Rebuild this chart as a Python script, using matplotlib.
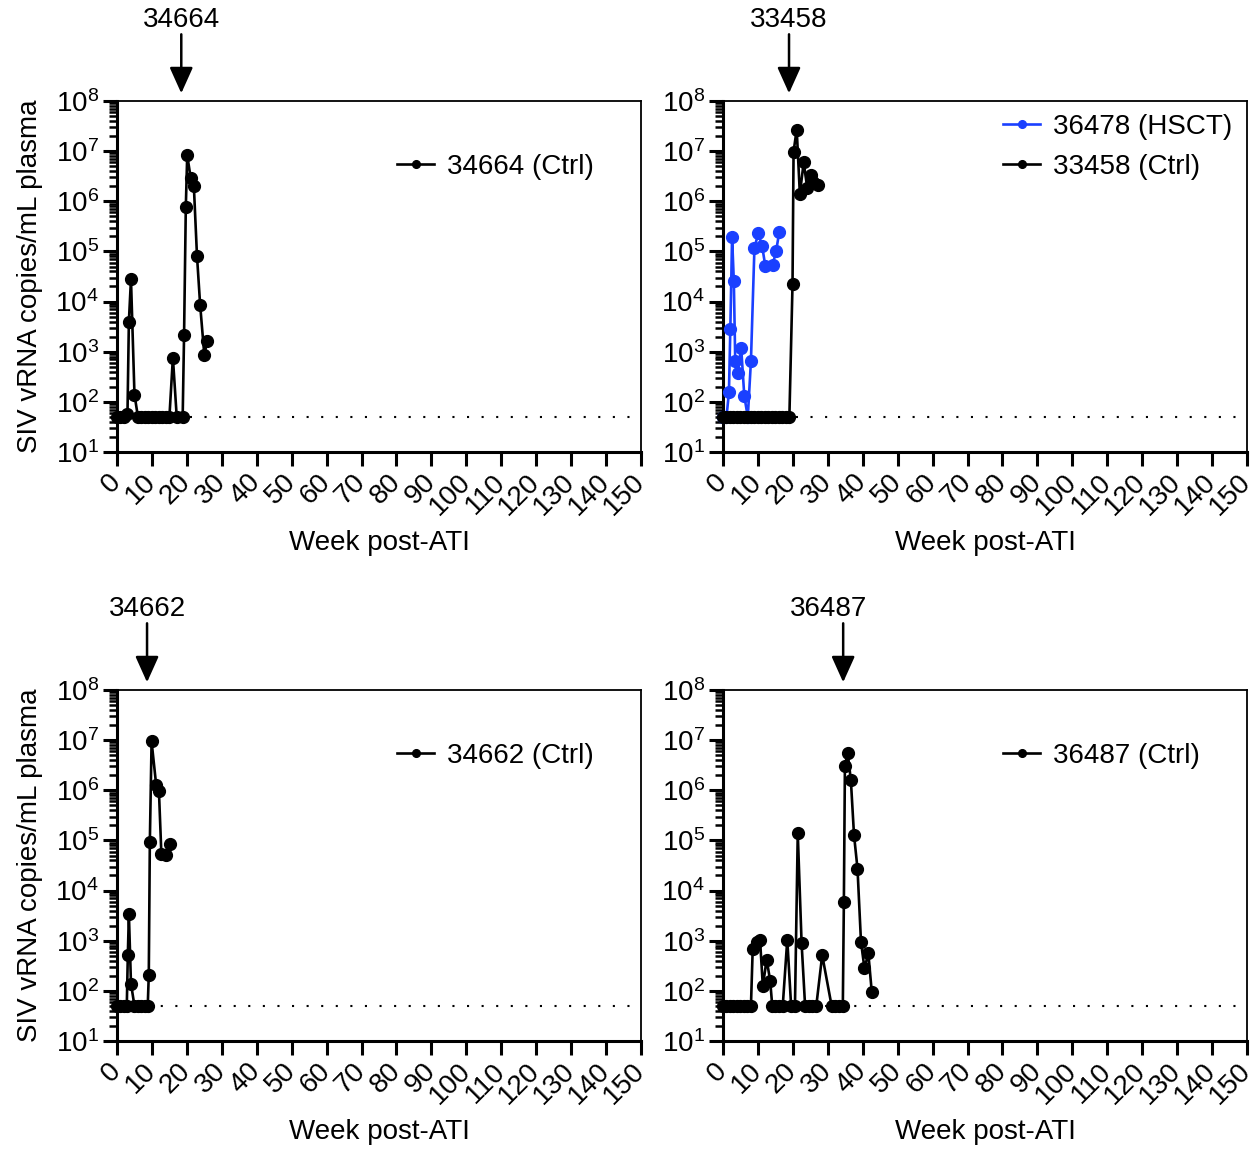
import numpy as np
import matplotlib
matplotlib.use("Agg")
import matplotlib.pyplot as plt
from matplotlib.ticker import LogLocator, FixedLocator, NullLocator

plt.rcParams['font.family'] = ['Liberation Sans', 'DejaVu Sans']
plt.rcParams['mathtext.default'] = 'regular'
plt.rcParams['font.size'] = 20

# limite de detection
lod = 50

# 34664 (Ctrl)
w_34664 = [0, 1, 2, 3, 3.4, 4, 5, 6, 7, 8, 9, 10, 11, 12, 13, 14, 15, 16, 17.1,
           18.8, 19.2, 19.7, 20.1, 21.1, 22, 22.9, 23.8, 25, 25.8]
v_34664 = [50, 50, 50, 58, 4000, 28000, 140, 50, 50, 50, 50, 50, 50, 50, 50, 50,
           50, 760, 50, 50, 2200, 780000, 8.3e6, 2.9e6, 2.0e6, 81000, 8600, 850, 1650]

# 36478 (HSCT)
w_36478 = [0, 1, 1.7, 2.1, 2.6, 3.1, 3.5, 4.2, 5.2, 6.1, 7.1, 8, 9, 10.1, 11.2,
           12.1, 14.2, 15.2, 16.1]
v_36478 = [50, 50, 155, 2850, 190000, 25700, 660, 380, 1200, 130, 50, 660,
           118000, 230000, 128000, 52000, 53000, 102000, 240000]

# 33458 (Ctrl)
w_33458 = [0, 1, 2, 3, 4, 5, 6, 7, 8, 9, 10, 11, 12, 13, 14, 15, 16, 17, 18, 19,
           19.9, 20.2, 21.1, 22, 23.1, 24.1, 25.2, 25.9, 27.1]
v_33458 = [50] * 20 + [22000, 9.8e6, 2.7e7, 1.4e6, 6.0e6, 1.87e6, 3.3e6, 2.4e6, 2.1e6]

# 34662 (Ctrl)
w_34662 = [0, 1, 2, 2.8, 3.1, 3.4, 4, 5, 6, 7, 8, 8.8, 9.1, 9.4, 9.9, 11.2, 12,
           12.7, 13.9, 15.1]
v_34662 = [50, 50, 50, 50, 520, 3400, 140, 50, 50, 50, 50, 50, 210, 92000, 9.4e6,
           1.3e6, 980000, 54000, 51000, 85000]

# 36487 (Ctrl)
w_36487 = [0, 1, 2, 3, 4, 5, 6, 7, 8, 8.5, 9.6, 10.6, 11.4, 12.5, 13.5, 14.1, 15,
           16, 17.1, 18.4, 19.5, 20.6, 21.4, 22.5, 23.5, 24.5, 25.5, 26.7, 28.4,
           31.1, 32.2, 33.3, 34.3, 34.6, 34.9, 35.7, 36.6, 37.5, 38.5, 39.5, 40.5,
           41.6, 42.6]
v_36487 = [50] * 9 + [670, 960, 1050, 125, 420, 160, 50, 50, 50, 50, 1050, 50, 50,
                      139000, 890, 50, 50, 50, 50, 515, 50, 50, 50, 50, 5900, 3.1e6,
                      5.5e6, 1.6e6, 129000, 27500, 950, 280, 560, 93]

# fleches (semaine du rebond) et position du texte
arrow_labels = ['34664', '33458', '34662', '36487']
arrow_weeks = [18.4, 18.9, 8.6, 34.4]
label_weeks = [18.6, 18.9, 8.6, 30.1]

blue = '#1a40ff'
x_ticks = list(range(0, 151, 10))

fig = plt.figure(figsize=(12.54, 11.49), dpi=100)
W, H = 1254, 1149
boxes = [(117, 452), (723, 452), (117, 1041), (723, 1041)]
axes = [fig.add_axes([l / W, 1 - b / H, 524 / W, 351 / H]) for l, b in boxes]

panels = [
    [(w_34664, v_34664, 'k', '34664 (Ctrl)')],
    [(w_36478, v_36478, blue, '36478 (HSCT)'), (w_33458, v_33458, 'k', '33458 (Ctrl)')],
    [(w_34662, v_34662, 'k', '34662 (Ctrl)')],
    [(w_36487, v_36487, 'k', '36487 (Ctrl)')],
]
leg_y = [0.812, 0.870, 0.812, 0.812]

for i, ax in enumerate(axes):
    ax.plot([0, 150], [lod, lod], color='k', lw=1.5, linestyle=(0, (1, 6)), zorder=1)
    for w, v, c, lab in panels[i]:
        ax.plot(w, v, '-o', color=c, lw=1.9, ms=8.5, label=lab, zorder=3,
                clip_on=False)

    ax.set_yscale('log')
    ax.set_ylim(10, 1e8)
    ax.set_xlim(0, 150)
    ax.xaxis.set_major_locator(FixedLocator(x_ticks))
    ax.xaxis.set_minor_locator(NullLocator())
    ax.yaxis.set_major_locator(LogLocator(base=10, numticks=20))
    ax.yaxis.set_minor_locator(LogLocator(base=10, subs=np.arange(2, 10), numticks=20))
    ax.set_xticklabels([str(t) for t in x_ticks], rotation=45, ha='right',
                       va='center', rotation_mode='anchor')

    for s in ['left', 'bottom']:
        ax.spines[s].set_linewidth(2.2)
    for s in ['top', 'right']:
        ax.spines[s].set_linewidth(1.3)
    ax.tick_params(axis='both', which='major', direction='out', length=10,
                   width=2.2, labelsize=20)
    ax.tick_params(axis='y', which='minor', direction='out', length=5.5, width=1.8)
    ax.tick_params(axis='x', which='major', pad=9)
    ax.tick_params(axis='y', which='major', pad=3)

    ax.set_xlabel('Week post-ATI', fontsize=20)
    ax.xaxis.set_label_coords(0.5, -0.222)
    if i in (0, 2):
        ax.set_ylabel('SIV vRNA copies/mL plasma', fontsize=20)
        ax.yaxis.set_label_coords(-0.142, 0.5)

    ax.legend(loc='center left', bbox_to_anchor=(0.534, leg_y[i]), frameon=False,
              borderaxespad=0, borderpad=0, handlelength=1.35, handletextpad=0.45,
              labelspacing=0.5, markerscale=0.65, fontsize=20)

    ax.annotate('', xy=(arrow_weeks[i], 1.022), xycoords=('data', 'axes fraction'),
                xytext=(arrow_weeks[i], 1.19), textcoords=('data', 'axes fraction'),
                arrowprops=dict(arrowstyle='-|>,head_length=0.8,head_width=0.36',
                                color='k', lw=1.8, mutation_scale=20,
                                shrinkA=0, shrinkB=0))
    ax.text(label_weeks[i], 1.23, arrow_labels[i], transform=ax.get_xaxis_transform(),
            ha='center', va='center', fontsize=20)

fig.savefig('out.png', dpi=100)
